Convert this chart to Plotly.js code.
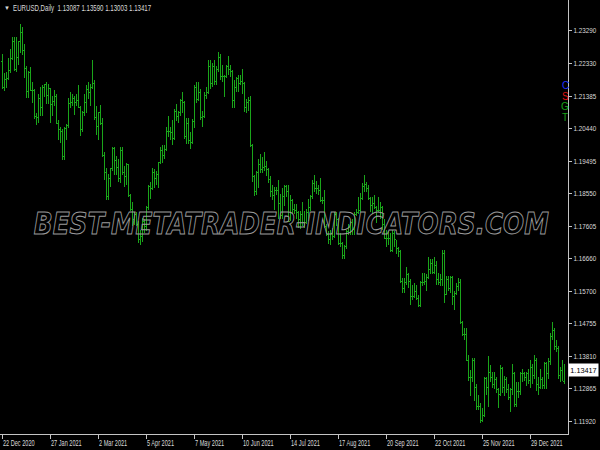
<!DOCTYPE html>
<html><head><meta charset="utf-8">
<script src="https://cdn.plot.ly/plotly-3.0.1.min.js"></script>
<style>
html,body{margin:0;padding:0;background:#000;}
#chart{width:600px;height:450px;}
.ohlclayer path{shape-rendering:crispEdges;}
.wm .annotation-text{fill:none !important;stroke:#999999;stroke-width:0.8px;}
</style></head>
<body><div id="chart"></div>
<script>
// ---- data: EURUSD daily, 22 Dec 2020 .. 21 Jan 2022 (one value per trading day) ----
const symbolName = 'EURUSD,Daily';
const openPrices = [
1.2238,1.2165,1.2188,1.2190,1.2214,1.2249,1.2298,
1.2216,1.2250,1.2297,1.2325,1.2272,1.2220,1.2151,1.2206,1.2156,1.2156,1.2080,1.2075,1.2131,1.2106,1.2165,1.2171,1.2140,1.2160,1.2113,1.2122,
1.2137,1.2060,1.2040,1.2035,1.1963,1.2045,1.2052,1.2118,1.2120,1.2132,1.2120,1.2125,1.2105,1.2040,1.2090,1.2120,1.2157,1.2150,1.2165,1.2175,
1.2075,1.2050,1.2090,1.2060,1.1965,1.1915,1.1847,1.1900,1.1927,1.1985,1.1952,1.1930,1.1900,1.1980,1.1915,1.1905,1.1940,1.1850,1.1810,1.1780,1.1795,1.1765,1.1720,
1.1730,1.1775,1.1760,1.1813,1.1875,1.1870,1.1915,1.1900,1.1910,1.1945,1.1980,1.1966,1.1983,1.2035,1.2035,1.2033,1.2015,1.2095,1.2080,1.2090,1.2125,1.2120,
1.2020,1.2060,1.2010,1.2005,1.2065,1.2165,1.2130,1.2150,1.2075,1.2080,1.2140,1.2150,1.2225,1.2175,1.2225,1.2180,1.2215,1.2250,1.2195,1.2195,1.2195,
1.2225,1.2215,1.2210,1.2125,1.2165,1.2190,1.2175,1.2180,1.2175,1.2105,1.2120,1.2125,1.1995,1.1905,1.1860,1.1915,1.1940,1.1925,1.1930,1.1935,1.1925,1.1895,
1.1860,1.1850,1.1865,1.1865,1.1825,1.1790,1.1845,1.1875,1.1860,1.1775,1.1835,1.1810,1.1805,1.1800,1.1780,1.1795,1.1770,1.1770,1.1800,1.1815,1.1845,1.1885,
1.1870,1.1870,1.1865,1.1835,1.1835,1.1760,1.1735,1.1720,1.1740,1.1730,1.1795,1.1780,1.1710,1.1710,1.1675,1.1700,1.1745,1.1755,1.1770,1.1750,1.1795,1.1800,
1.1805,1.1840,1.1875,1.1880,1.1870,1.1840,1.1820,1.1825,1.1815,1.1805,1.1805,1.1815,1.1765,1.1725,1.1725,1.1725,1.1690,1.1740,1.1720,1.1695,1.1685,1.1600,
1.1580,1.1595,1.1620,1.1600,1.1555,1.1555,1.1570,1.1550,1.1530,1.1595,1.1595,1.1600,1.1610,1.1635,1.1650,1.1625,1.1645,1.1605,1.1595,1.1605,1.1680,
1.1560,1.1605,1.1580,1.1610,1.1555,1.1565,1.1585,1.1595,1.1480,1.1445,1.1445,1.1370,1.1320,1.1320,1.1370,1.1290,1.1235,1.1235,1.1195,1.1210,1.1318,1.1290,
1.1335,1.1320,1.1300,1.1315,1.1285,1.1270,1.1345,1.1290,1.1315,1.1285,1.1260,1.1285,1.1330,1.1240,1.1280,1.1280,1.1330,1.1330,1.1320,1.1330,1.1310,1.1350,1.1325,
1.1370,1.1300,1.1290,1.1315,1.1295,1.1360,1.1330,1.1365,1.1440,1.1455,1.1410,1.1405,1.1325,1.1340,1.13087];
const highPrices = [
1.2262,1.2205,1.2210,1.2250,1.2275,1.2310,1.2310,
1.2310,1.2300,1.2349,1.2340,1.2290,1.2225,1.2212,1.2222,1.2180,1.2160,1.2090,1.2144,1.2165,1.2172,1.2175,1.2180,1.2175,1.2162,1.2140,1.2155,
1.2145,1.2070,1.2050,1.2044,1.2050,1.2058,1.2132,1.2150,1.2145,1.2140,1.2145,1.2170,1.2110,1.2095,1.2145,1.2170,1.2180,1.2175,1.2243,1.2185,
1.2110,1.2090,1.2113,1.2075,1.1975,1.1930,1.1912,1.1930,1.1990,1.1990,1.1965,1.1955,1.1990,1.1990,1.1935,1.1945,1.1942,1.1855,1.1830,1.1800,1.1800,1.1775,1.1750,
1.1785,1.1780,1.1820,1.1880,1.1890,1.1930,1.1925,1.1920,1.1948,1.1990,1.1995,1.1995,1.2048,1.2080,1.2050,1.2070,1.2100,1.2116,1.2095,1.2130,1.2150,1.2125,
1.2075,1.2075,1.2035,1.2072,1.2172,1.2180,1.2180,1.2160,1.2095,1.2150,1.2165,1.2245,1.2245,1.2235,1.2245,1.2225,1.2266,1.2262,1.2230,1.2200,1.2230,
1.2255,1.2230,1.2215,1.2185,1.2195,1.2200,1.2200,1.2218,1.2180,1.2130,1.2135,1.2140,1.2000,1.1910,1.1920,1.1955,1.1970,1.1960,1.1975,1.1950,1.1930,1.1905,
1.1880,1.1875,1.1875,1.1895,1.1855,1.1870,1.1880,1.1880,1.1880,1.1850,1.1840,1.1825,1.1825,1.1805,1.1805,1.1830,1.1805,1.1810,1.1840,1.1850,1.1895,1.1909,
1.1892,1.1880,1.1900,1.1845,1.1865,1.1765,1.1745,1.1750,1.1755,1.1800,1.1800,1.1785,1.1740,1.1715,1.1705,1.1750,1.1765,1.1775,1.1780,1.1800,1.1810,1.1845,
1.1857,1.1885,1.1909,1.1890,1.1880,1.1845,1.1845,1.1850,1.1820,1.1845,1.1830,1.1820,1.1780,1.1750,1.1745,1.1740,1.1750,1.1745,1.1720,1.1700,1.1690,1.1610,
1.1610,1.1640,1.1625,1.1605,1.1590,1.1595,1.1590,1.1560,1.1600,1.1625,1.1625,1.1620,1.1670,1.1665,1.1665,1.1670,1.1660,1.1625,1.1620,1.1692,1.1690,
1.1615,1.1615,1.1615,1.1615,1.1570,1.1595,1.1610,1.1605,1.1485,1.1465,1.1465,1.1385,1.1340,1.1375,1.1375,1.1300,1.1270,1.1245,1.1230,1.1320,1.1320,1.1383,
1.1355,1.1335,1.1335,1.1320,1.1290,1.1355,1.1350,1.1325,1.1320,1.1300,1.1290,1.1360,1.1335,1.1305,1.1305,1.1335,1.1345,1.1335,1.1335,1.1345,1.1370,1.1360,1.1385,
1.1375,1.1320,1.1345,1.1320,1.1365,1.1365,1.1375,1.1450,1.1482,1.1465,1.1430,1.1410,1.1350,1.1370,1.13590];
const lowPrices = [
1.2158,1.2154,1.2162,1.2185,1.2206,1.2245,1.2212,
1.2210,1.2228,1.2265,1.2257,1.2190,1.2133,1.2132,1.2153,1.2120,1.2072,1.2054,1.2060,1.2080,1.2080,1.2137,1.2116,1.2115,1.2060,1.2080,1.2110,
1.2056,1.2010,1.2002,1.1952,1.1952,1.2010,1.2045,1.2105,1.2110,1.2085,1.2110,1.2105,1.2023,1.2035,1.2080,1.2090,1.2130,1.2110,1.2160,1.2070,
1.2025,1.2012,1.2055,1.1962,1.1893,1.1836,1.1835,1.1875,1.1920,1.1910,1.1910,1.1890,1.1885,1.1910,1.1875,1.1880,1.1845,1.1805,1.1760,1.1762,1.1760,1.1712,1.1704,
1.1715,1.1740,1.1745,1.1808,1.1840,1.1865,1.1870,1.1880,1.1870,1.1940,1.1945,1.1955,1.1980,1.2020,1.2010,1.1995,1.2010,1.2065,1.2060,1.2080,1.2090,1.2015,
1.2000,1.1998,1.1986,1.2000,1.2045,1.2120,1.2125,1.2070,1.2050,1.2075,1.2130,1.2145,1.2160,1.2165,1.2170,1.2170,1.2210,1.2185,1.2180,1.2135,1.2190,
1.2200,1.2195,1.2105,1.2105,1.2150,1.2150,1.2170,1.2145,1.2093,1.2090,1.2095,1.1990,1.1890,1.1847,1.1850,1.1870,1.1915,1.1915,1.1920,1.1905,1.1885,1.1845,
1.1835,1.1807,1.1850,1.1780,1.1780,1.1780,1.1820,1.1845,1.1773,1.1775,1.1795,1.1795,1.1780,1.1755,1.1752,1.1760,1.1755,1.1765,1.1775,1.1805,1.1840,1.1860,
1.1855,1.1850,1.1830,1.1825,1.1755,1.1730,1.1707,1.1705,1.1720,1.1725,1.1760,1.1705,1.1700,1.1665,1.1664,1.1695,1.1735,1.1735,1.1735,1.1735,1.1790,1.1795,
1.1800,1.1835,1.1860,1.1860,1.1835,1.1800,1.1795,1.1810,1.1770,1.1800,1.1780,1.1750,1.1725,1.1700,1.1705,1.1685,1.1685,1.1700,1.1680,1.1670,1.1595,1.1565,
1.1565,1.1590,1.1580,1.1530,1.1545,1.1550,1.1545,1.1524,1.1525,1.1585,1.1590,1.1570,1.1605,1.1620,1.1620,1.1620,1.1590,1.1590,1.1585,1.1585,1.1535,
1.1560,1.1570,1.1565,1.1530,1.1515,1.1560,1.1570,1.1475,1.1440,1.1430,1.1370,1.1310,1.1265,1.1305,1.1250,1.1225,1.1225,1.1186,1.1190,1.1205,1.1270,1.1235,
1.1305,1.1290,1.1285,1.1275,1.1230,1.1265,1.1275,1.1265,1.1275,1.1255,1.1220,1.1270,1.1235,1.1235,1.1260,1.1270,1.1305,1.1310,1.1295,1.1300,1.1290,1.1300,1.1315,
1.1280,1.1270,1.1285,1.1285,1.1285,1.1285,1.1315,1.1355,1.1430,1.1400,1.1395,1.1315,1.1305,1.1310,1.13003];
const closePrices = [
1.2165,1.2188,1.2186,1.2214,1.2249,1.2298,1.2216,
1.2250,1.2297,1.2325,1.2272,1.2220,1.2151,1.2206,1.2156,1.2156,1.2080,1.2075,1.2131,1.2106,1.2165,1.2171,1.2140,1.2160,1.2113,1.2122,1.2137,
1.2060,1.2040,1.2035,1.1963,1.2045,1.2052,1.2118,1.2120,1.2132,1.2120,1.2125,1.2105,1.2040,1.2090,1.2120,1.2157,1.2150,1.2165,1.2175,1.2075,
1.2050,1.2090,1.2060,1.1965,1.1915,1.1847,1.1900,1.1927,1.1985,1.1952,1.1930,1.1900,1.1980,1.1915,1.1905,1.1940,1.1850,1.1810,1.1780,1.1795,1.1765,1.1720,1.1730,
1.1775,1.1760,1.1813,1.1875,1.1870,1.1915,1.1900,1.1910,1.1945,1.1980,1.1966,1.1983,1.2035,1.2035,1.2033,1.2015,1.2095,1.2080,1.2090,1.2125,1.2120,1.2020,
1.2060,1.2010,1.2005,1.2065,1.2165,1.2130,1.2150,1.2075,1.2080,1.2140,1.2150,1.2225,1.2175,1.2225,1.2180,1.2215,1.2250,1.2195,1.2195,1.2195,1.2225,
1.2215,1.2210,1.2125,1.2165,1.2190,1.2175,1.2180,1.2175,1.2105,1.2120,1.2125,1.1995,1.1905,1.1860,1.1915,1.1940,1.1925,1.1930,1.1935,1.1925,1.1895,1.1860,
1.1850,1.1865,1.1865,1.1825,1.1790,1.1845,1.1875,1.1860,1.1775,1.1835,1.1810,1.1805,1.1800,1.1780,1.1795,1.1770,1.1770,1.1800,1.1815,1.1845,1.1885,1.1870,
1.1870,1.1865,1.1835,1.1835,1.1760,1.1735,1.1720,1.1740,1.1730,1.1795,1.1780,1.1710,1.1710,1.1675,1.1700,1.1745,1.1755,1.1770,1.1750,1.1795,1.1800,1.1805,
1.1840,1.1875,1.1880,1.1870,1.1840,1.1820,1.1825,1.1815,1.1805,1.1805,1.1815,1.1765,1.1725,1.1725,1.1725,1.1690,1.1740,1.1720,1.1695,1.1685,1.1600,1.1580,
1.1595,1.1620,1.1600,1.1555,1.1555,1.1570,1.1550,1.1530,1.1595,1.1595,1.1600,1.1610,1.1635,1.1650,1.1625,1.1645,1.1605,1.1595,1.1605,1.1680,1.1560,
1.1605,1.1580,1.1610,1.1555,1.1565,1.1585,1.1595,1.1480,1.1445,1.1445,1.1370,1.1320,1.1320,1.1370,1.1290,1.1235,1.1235,1.1195,1.1210,1.1318,1.1290,1.1335,
1.1320,1.1300,1.1315,1.1285,1.1270,1.1345,1.1290,1.1315,1.1285,1.1260,1.1285,1.1330,1.1240,1.1280,1.1280,1.1330,1.1330,1.1320,1.1330,1.1310,1.1350,1.1325,1.1370,
1.1300,1.1290,1.1315,1.1295,1.1360,1.1330,1.1365,1.1440,1.1455,1.1410,1.1405,1.1325,1.1340,1.1310,1.13417];
// date tick labels and the bar index each one sits on
const dateTickLabels = ['22 Dec 2020','27 Jan 2021','2 Mar 2021','5 Apr 2021','7 May 2021','10 Jun 2021','14 Jul 2021','17 Aug 2021','20 Sep 2021','22 Oct 2021','25 Nov 2021','29 Dec 2021'];
const dateTickBars = [0,24,48,72,96,120,144,168,192,216,240,264];
// price scale tick values
const priceTicks = [1.11920,1.12865,1.13810,1.14755,1.15700,1.16660,1.17605,1.18550,1.19495,1.20440,1.21385,1.22330,1.23290];
const watermarkText = 'BEST-METATRADER-INDICATORS.COM';
// indicator letters shown at the right edge, with their colours
const sideLetters = ['C','S','G','T'];
const sideLetterColors = ['#2030ff','#e01010','#18a018','#18a018'];

// ---- build ----
const barIndex = openPrices.map((_, i) => i);
const last = openPrices.length - 1;
const fmt = v => v.toFixed(5);
const headerText = symbolName + '  ' + [openPrices[last], highPrices[last], lowPrices[last], closePrices[last]].map(fmt).join(' ');

const GREEN = '#1aa51a';
const AXIS = '#c4c4c4';
const TXT = '#dadada';
const FONT = 'Liberation Sans, Arial, sans-serif';

const trace = {
  type: 'ohlc', x: barIndex,
  open: openPrices, high: highPrices, low: lowPrices, close: closePrices,
  increasing: {line: {color: GREEN, width: 1}},
  decreasing: {line: {color: GREEN, width: 1}},
  tickwidth: 0.5, hoverinfo: 'skip', showlegend: false
};

const annotations = [
  {xref: 'paper', yref: 'paper', x: 0.004, y: 0.982, xanchor: 'left', yanchor: 'middle',
   text: '\u25BC', showarrow: false, font: {family: FONT, size: 6, color: TXT}},
  {xref: 'paper', yref: 'paper', x: 0.019, y: 0.982, xanchor: 'left', yanchor: 'middle',
   text: headerText, showarrow: false, font: {family: FONT, size: 9, color: TXT}},
  {xref: 'paper', yref: 'paper', x: 0.514, y: 0.484, xanchor: 'center', yanchor: 'middle',
   text: watermarkText, showarrow: false,
   font: {family: 'DejaVu Sans', size: 23, color: '#999999', style: 'italic', weight: 'bold'}},
  {xref: 'paper', yref: 'y', x: 1.0, y: closePrices[last], xanchor: 'left', yanchor: 'middle',
   text: fmt(closePrices[last]), showarrow: false, bgcolor: '#ffffff', width: 27, height: 10, borderpad: 1,
   font: {family: FONT, size: 7.3, color: '#000'}}
];
sideLetters.forEach((s, k) => annotations.push({
  xref: 'paper', yref: 'paper', x: 0.9955, y: 0.802 - k * 0.024, xanchor: 'center', yanchor: 'middle',
  text: s, showarrow: false, font: {family: FONT, size: 10, color: sideLetterColors[k]}
}));

const layout = {
  width: 600, height: 450,
  paper_bgcolor: '#000', plot_bgcolor: '#000',
  margin: {l: 0, r: 32, t: 0, b: 16, pad: 0},
  showlegend: false,
  dragmode: false,
  xaxis: {
    range: [-1, 283], fixedrange: true,
    tickmode: 'array', tickvals: dateTickBars, ticktext: dateTickLabels,
    tickangle: 0,
    ticks: 'outside', ticklen: 4, tickcolor: AXIS, tickwidth: 1,
    ticklabelposition: 'outside right',
    showline: true, linecolor: AXIS, linewidth: 1,
    showgrid: false, zeroline: false,
    rangeslider: {visible: false},
    tickfont: {family: FONT, size: 9, color: TXT}
  },
  yaxis: {
    side: 'right', range: [1.11550, 1.24184], fixedrange: true,
    tickmode: 'array', tickvals: priceTicks, ticktext: priceTicks.map(fmt),
    ticks: 'outside', ticklen: 3, tickcolor: AXIS, tickwidth: 1,
    showline: true, linecolor: AXIS, linewidth: 1,
    showgrid: false, zeroline: false,
    tickfont: {family: FONT, size: 7.3, color: TXT}
  },
  annotations: annotations
};

Plotly.newPlot('chart', [trace], layout, {staticPlot: true, displayModeBar: false}).then(() => {
  // condense text horizontally (the reference uses a narrow screen font), keeping the left edge in place
  const squeeze = (t, f) => {
    if (!t) return;
    const b0 = t.getBBox();
    const w = t.getComputedTextLength();
    if (w <= 0) return;
    t.setAttribute('textLength', (w * f).toFixed(1));
    t.setAttribute('lengthAdjust', 'spacingAndGlyphs');
    const b1 = t.getBBox();
    const dx = b0.x - b1.x;
    if (Math.abs(dx) > 0.1) t.setAttribute('x', (parseFloat(t.getAttribute('x') || 0) + dx).toFixed(1));
  };
  document.querySelectorAll('.xtick text').forEach(t => squeeze(t, 0.62));
  document.querySelectorAll('.ytick text').forEach(t => squeeze(t, 0.86));
  const ann = document.querySelectorAll('.annotation');
  squeeze(ann[1].querySelector('text'), 0.68);
  ann[2].classList.add('wm');
  const wt = ann[2].querySelector('text');
  const wb = wt.getBBox();
  const cy = wb.y + wb.height / 2;
  wt.setAttribute('textLength', '515');
  wt.setAttribute('lengthAdjust', 'spacingAndGlyphs');
  wt.setAttribute('transform', 'translate(0,' + cy.toFixed(1) + ') scale(1,1.3) translate(0,' + (-cy).toFixed(1) + ')');
});
</script></body></html>
